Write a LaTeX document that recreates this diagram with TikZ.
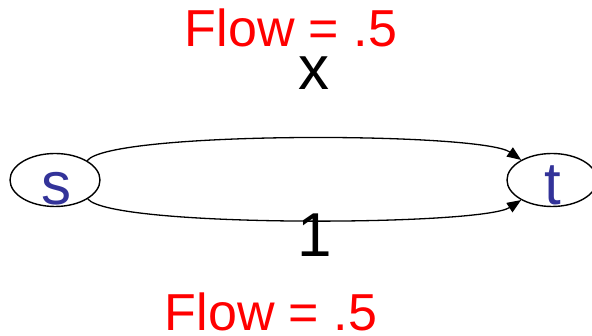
\documentclass[tikz,border=0pt]{standalone}
\usepackage{fontspec}
\setmainfont{Liberation Sans}
\usetikzlibrary{shapes.geometric,arrows.meta}
\definecolor{nodeblue}{HTML}{333399}
\definecolor{flowred}{HTML}{FF0000}
\begin{document}
\begin{tikzpicture}[x=1pt,y=1pt,
  vert/.style={draw=black, line width=1.4pt, ellipse, minimum width=90pt, minimum height=53pt, inner sep=0pt},
  vlabel/.style={anchor=base, inner sep=0pt, text=nodeblue, font=\fontsize{60}{60}\selectfont},
  caplabel/.style={anchor=base, inner sep=0pt, text=black, font=\fontsize{62}{62}\selectfont},
  flow/.style={anchor=base, inner sep=0pt, text=flowred, font=\fontsize{52}{52}\selectfont},
  arc/.style={draw=black, line width=1.3pt, -{Triangle[length=14pt,width=11pt]}}]
\useasboundingbox (0,0) rectangle (592,336);
\node[vert] (s) at (55,156) {};
\node[vert] (t) at (552,156) {};
\node[vlabel] (sl) at (56,131) {s};
\node[vlabel] (tl) at (553,131) {t};
\draw[arc] (s.31) .. controls +(23,30) and +(-40,28) .. (t.147);
\draw[arc] (s.-30) .. controls +(23,-29) and +(-40,-26) .. (t.-147);
\node[caplabel] (x) at (314,246) {x};
\node[caplabel] (one) at (315,79) {1};
\node[flow] (f1) at (291,289) {Flow = .5};
\node[flow] (f2) at (271,5) {Flow = .5};
\end{tikzpicture}
\end{document}
